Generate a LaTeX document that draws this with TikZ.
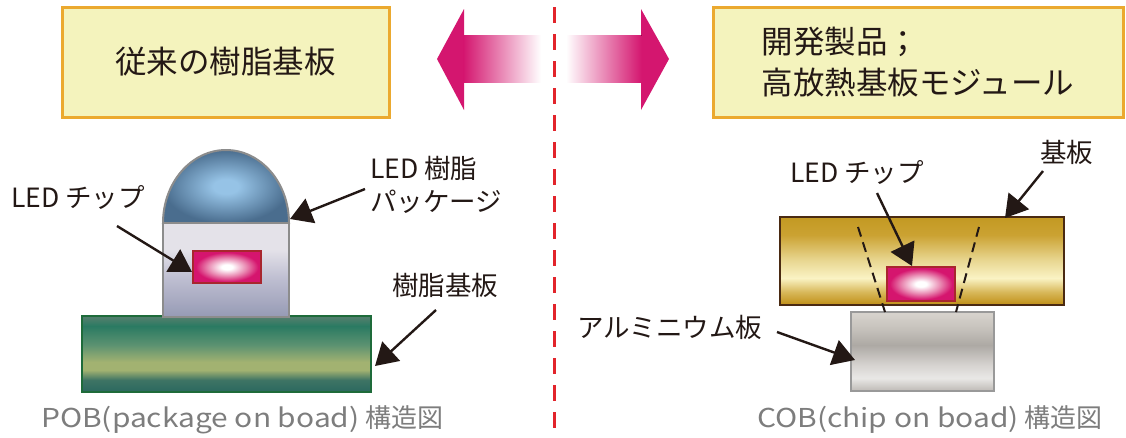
\documentclass[tikz,border=0pt]{standalone}
\usepackage{fontspec}
\setmainfont{Noto Sans CJK JP}
\newfontfamily\latinwide[FakeStretch=1.15]{Noto Sans CJK JP}
\usetikzlibrary{arrows.meta}

% palette
\definecolor{ink}{HTML}{231815}
\definecolor{capgray}{HTML}{7D7D7D}
\definecolor{ttlfill}{HTML}{F4F3BD}
\definecolor{ttlborder}{HTML}{EBA92F}
\definecolor{arrowM}{HTML}{D4166F}
\definecolor{divred}{HTML}{E2242B}
\definecolor{shellgray}{HTML}{8C8C8C}
\definecolor{chipedge}{HTML}{A8262E}
\definecolor{chipM}{HTML}{D5156E}
\definecolor{chipP}{HTML}{E98AB2}
\definecolor{domeC}{HTML}{96C3E6}
\definecolor{domeE}{HTML}{4A6D8E}
\definecolor{pkgT}{HTML}{E4E2E9}
\definecolor{pkgM}{HTML}{BDBDD0}
\definecolor{pkgB}{HTML}{989CB6}
\definecolor{grnEdge}{HTML}{1E6B3A}
\definecolor{grnA}{HTML}{4F7E6C}
\definecolor{grnB}{HTML}{2A7A62}
\definecolor{grnC}{HTML}{5C9271}
\definecolor{grnD}{HTML}{A2B271}
\definecolor{grnE}{HTML}{3E7464}
\definecolor{grnF}{HTML}{2E6A60}
\definecolor{gldEdge}{HTML}{4A2A12}
\definecolor{gldA}{HTML}{C49A24}
\definecolor{gldB}{HTML}{CBA232}
\definecolor{gldC}{HTML}{E8D690}
\definecolor{gldD}{HTML}{FAF3C4}
\definecolor{gldE}{HTML}{D8B85A}
\definecolor{gldF}{HTML}{C39520}
\definecolor{alEdge}{HTML}{999999}
\definecolor{alA}{HTML}{D6D2CC}
\definecolor{alB}{HTML}{C4C0BA}
\definecolor{alC}{HTML}{ADA9A4}
\definecolor{alD}{HTML}{D6D3D0}
\definecolor{alE}{HTML}{E9E8E6}
\definecolor{alF}{HTML}{C5C1BD}

% shadings (bottom = 25bp, top = 75bp)
\pgfdeclareverticalshading{pkgbody}{100bp}{color(0bp)=(pkgB); color(26bp)=(pkgB); color(45bp)=(pkgM); color(61bp)=(pkgT); color(100bp)=(pkgT)}
\pgfdeclareverticalshading{greenboard}{100bp}{color(0bp)=(grnF); color(26.3bp)=(grnF); color(32.9bp)=(grnE); color(39.5bp)=(grnD); color(44.7bp)=(grnD); color(55.9bp)=(grnC); color(68.4bp)=(grnB); color(73.7bp)=(grnA); color(100bp)=(grnA)}
\pgfdeclareverticalshading{goldboard}{100bp}{color(0bp)=(gldF); color(26.1bp)=(gldF); color(32.4bp)=(gldE); color(40.3bp)=(gldD); color(50.6bp)=(gldC); color(64.8bp)=(gldB); color(73.9bp)=(gldA); color(100bp)=(gldA)}
\pgfdeclareverticalshading{aluplate}{100bp}{color(0bp)=(alF); color(26.3bp)=(alF); color(33.2bp)=(alE); color(41.5bp)=(alD); color(54.1bp)=(alC); color(63.6bp)=(alB); color(73.7bp)=(alA); color(100bp)=(alA)}
\pgfdeclareradialshading{chipglow}{\pgfpoint{0bp}{0bp}}{color(0bp)=(white); color(4bp)=(white); color(14bp)=(chipP); color(23bp)=(chipM); color(50bp)=(chipM)}
\pgfdeclareradialshading{domeglow}{\pgfpoint{0bp}{0bp}}{color(0bp)=(domeC); color(5bp)=(domeC); color(25bp)=(domeE); color(50bp)=(domeE)}

\begin{document}
\begin{tikzpicture}[x=1pt, y=-1pt,
  ttl/.style={draw=ttlborder, line width=3pt, fill=ttlfill, text=ink,
    font=\fontsize{31.5pt}{41pt}\selectfont, align=left, inner sep=0pt},
  lbl/.style={font=\fontsize{26.5pt}{33pt}\selectfont, text=ink,
    inner sep=0pt, anchor=west, align=left},
  caption/.style={font=\fontsize{26pt}{30pt}\selectfont, text=capgray,
    inner sep=0pt, anchor=west},
  pointer/.style={draw=ink, line width=2.4pt,
    -{Triangle[length=22pt, width=26pt]}},
  outline/.style={line width=2pt}]
\useasboundingbox (0,0) rectangle (1126,437);

% ---- headings ----
\node[ttl, minimum width=327pt, minimum height=110pt] (ttlL) at (225.5,62) {従来の樹脂基板};
\node[ttl, minimum width=410pt, minimum height=110pt] (ttlR) at (918,62) {開発製品；\\高放熱基板モジュール};

% ---- block arrows ----
\fill[arrowM] (437,59) -- (464,9) -- (464,110) -- cycle;
\fill[left color=arrowM, right color=white] (463.5,35) rectangle (541,82);
\fill[arrowM] (669,59) -- (641,9) -- (641,110) -- cycle;
\fill[left color=white, right color=arrowM] (566,35) rectangle (641.5,82);

% ---- divider ----
\draw[divred, line width=3pt, dash pattern=on 16pt off 11pt] (554,7) -- (554,437);

% ---- POB: resin board with packaged LED ----
\path[shade, shading=greenboard, draw=grnEdge, outline] (82,316) rectangle (371,392);
\path[shade, shading=domeglow, draw=shellgray, outline]
  (163,223) arc[start angle=180, end angle=360, x radius=63, y radius=73] -- cycle;
\path[shade, shading=pkgbody, draw=shellgray, outline] (163,223) rectangle (289,317);
\path[shade, shading=chipglow, draw=chipedge, outline] (193,251) rectangle (261,283);

\node[lbl] (chipLlbl) at (11,197) {LED チップ};
\node[lbl] (pkgLlbl) at (370,184.5) {LED 樹脂\\パッケージ};
\node[lbl] (brdLlbl) at (392,285) {樹脂基板};
\node[caption] (capL) at (41,420) {{\latinwide POB(package on boad)} 構造図};

\coordinate (chipLfrom) at (117,226);
\coordinate (chipLto) at (192,272);
\coordinate (pkgLfrom) at (365,189);
\coordinate (pkgLto) at (290,219);
\coordinate (brdLfrom) at (436,310);
\coordinate (brdLto) at (375,366);
\draw[pointer] (chipLfrom) -- (chipLto);
\draw[pointer] (pkgLfrom) -- (pkgLto);
\draw[pointer] (brdLfrom) -- (brdLto);

% ---- COB: chip on board over aluminium plate ----
\path[shade, shading=goldboard, draw=gldEdge, outline] (780,217) rectangle (1064,305);
\path[shade, shading=aluplate, draw=alEdge, outline] (851,312) rectangle (994,391);
\draw[ink, line width=2pt, dash pattern=on 10pt off 6pt] (858,227) -- (885,312);
\draw[ink, line width=2pt, dash pattern=on 10pt off 6pt] (979,227) -- (956,312);
\path[shade, shading=chipglow, draw=chipedge, outline] (887,267) rectangle (955,301);

\node[lbl] (chipRlbl) at (790,172) {LED チップ};
\node[lbl] (subRlbl) at (1040,152) {基板};
\node[lbl] (aluRlbl) at (577,327) {アルミニウム板};
\node[caption] (capR) at (757,420) {{\latinwide COB(chip on boad)} 構造図};

\coordinate (chipRfrom) at (877,193);
\coordinate (chipRto) at (912,266);
\coordinate (subRfrom) at (1043,171);
\coordinate (subRto) at (1005,218);
\coordinate (aluRfrom) at (777,332);
\coordinate (aluRto) at (855,360);
\draw[pointer] (chipRfrom) -- (chipRto);
\draw[pointer] (subRfrom) -- (subRto);
\draw[pointer] (aluRfrom) -- (aluRto);
\end{tikzpicture}
\end{document}
